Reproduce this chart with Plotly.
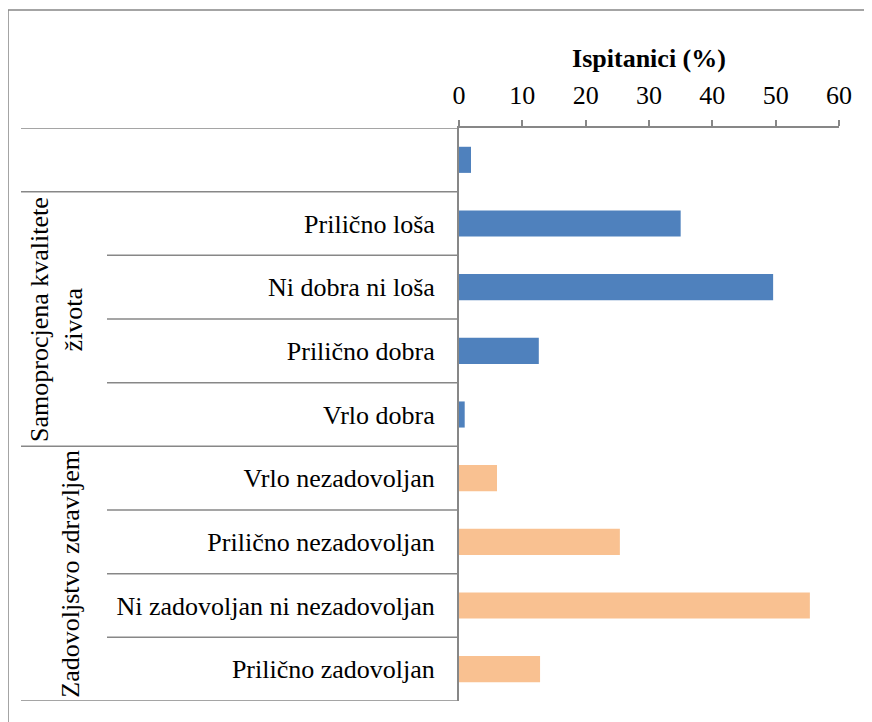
import plotly.graph_objects as go

# ---- data ----
quality_labels = ["", "Prilično loša", "Ni dobra ni loša", "Prilično dobra", "Vrlo dobra"]
quality_values = [1.9, 35.0, 49.6, 12.6, 0.9]

health_labels = ["Vrlo nezadovoljan", "Prilično nezadovoljan",
                 "Ni zadovoljan ni nezadovoljan", "Prilično zadovoljan"]
health_values = [6.0, 25.4, 55.4, 12.8]

group_names = ["", "Samoprocjena kvalitete<br>života", "Zadovoljstvo zdravljem"]
group_sizes = [1, 4, 4]

x_ticks = [0, 10, 20, 30, 40, 50, 60]
x_title = "Ispitanici (%)"

# ---- layout constants (page has an 8px body margin) ----
OFF = 8
W, H = 864, 714
ML, MR, MT, MB = 459 - OFF, 33, 128 - OFF, 21
plot_w = W - ML - MR
plot_h = H - MT - MB
FONT = "Liberation Serif"
GRAY = "#878787"

all_labels = quality_labels + health_labels
n = len(all_labels)
pos_q = list(range(len(quality_labels)))
pos_h = list(range(len(quality_labels), n))

fig = go.Figure()
fig.add_trace(go.Bar(y=pos_q, x=quality_values, orientation="h",
                     marker=dict(color="#4F81BD", line=dict(width=0)),
                     width=0.41, showlegend=False))
fig.add_trace(go.Bar(y=pos_h, x=health_values, orientation="h",
                     marker=dict(color="#F9C191", line=dict(width=0)),
                     width=0.41, showlegend=False))

def px_to_paper_x(px):  # px in screenshot coordinates
    return (px - OFF - ML) / plot_w

def px_to_paper_y(py):
    return (OFF + H - MB - py) / plot_h

shapes = []
# chart border (extends beyond the visible area on right/bottom)
shapes.append(dict(type="rect", xref="paper", yref="paper",
                   x0=px_to_paper_x(8), x1=px_to_paper_x(W + 80),
                   y0=px_to_paper_y(H + 80), y1=px_to_paper_y(10),
                   line=dict(color=GRAY, width=1.5), layer="below"))

# separator lines between categories / groups
group_edges = set()
acc = 0
group_edges.add(-0.5)
for s in group_sizes:
    acc += s
    group_edges.add(acc - 0.5)
for b in range(n + 1):
    yb = b - 0.5
    x_start = 21 if yb in group_edges else 107
    shapes.append(dict(type="line", xref="paper", yref="y",
                       x0=px_to_paper_x(x_start), x1=0, y0=yb, y1=yb,
                       line=dict(color=GRAY, width=1.5)))

annotations = []
acc = 0
group_x = [None, 56, 71]
for gi, (g, s) in enumerate(zip(group_names, group_sizes)):
    center = acc + (s - 1) / 2
    acc += s
    if not g:
        continue
    annotations.append(dict(text=g, xref="paper", yref="y",
                            x=px_to_paper_x(group_x[gi]), y=center,
                            textangle=-90, showarrow=False,
                            xanchor="center", yanchor="middle",
                            font=dict(family=FONT, size=26, color="black")))

fig.update_layout(
    width=W, height=H,
    margin=dict(l=ML, r=MR, t=MT, b=MB),
    paper_bgcolor="white", plot_bgcolor="white",
    bargap=0.59,
    shapes=shapes,
    annotations=annotations,
    xaxis=dict(side="top", range=[0, 60], tickvals=x_ticks,
               showgrid=False, zeroline=False,
               showline=True, linecolor=GRAY, linewidth=1.5,
               ticks="outside", ticklen=6, tickcolor=GRAY, tickwidth=1.5,
               ticklabelstandoff=6,
               tickfont=dict(family=FONT, size=26, color="black"),
               title=dict(text="<b>" + x_title + "</b>", standoff=6,
                          font=dict(family=FONT, size=26, color="black"))),
    yaxis=dict(range=[n - 0.5, -0.5], tickvals=list(range(n)),
               ticktext=all_labels, showgrid=False, zeroline=False,
               showline=True, linecolor=GRAY, linewidth=2,
               ticks="", ticklabelstandoff=17,
               tickfont=dict(family=FONT, size=26, color="black")),
    font=dict(family=FONT, color="black"),
)

fig.write_html("out.html")
